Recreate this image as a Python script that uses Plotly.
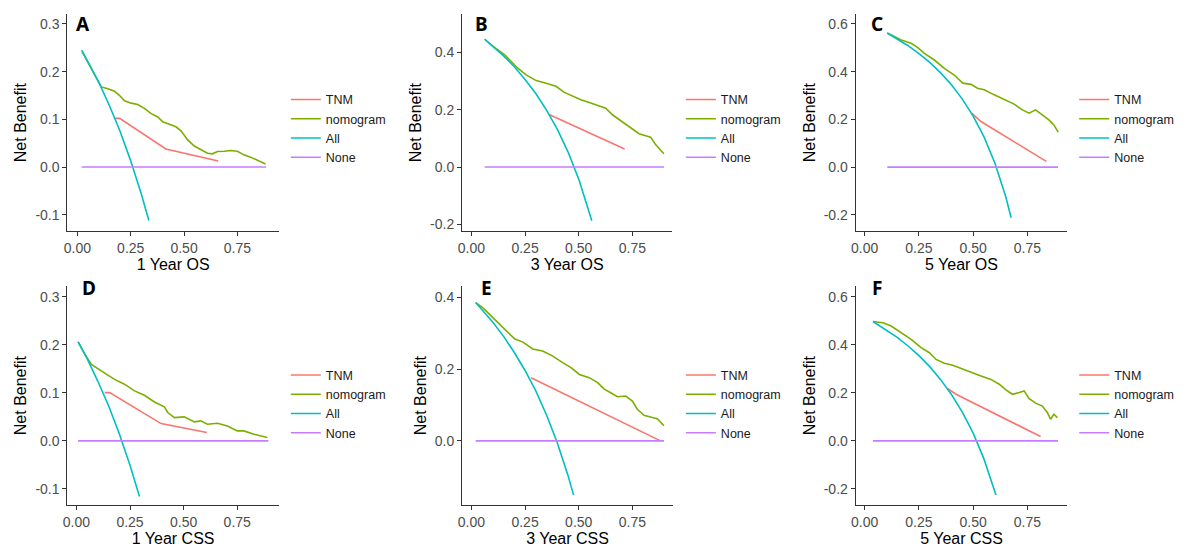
import plotly.graph_objects as go

# ---------------- data ----------------
series_names = ["TNM", "nomogram", "All", "None"]
panel_letters = ["A", "B", "C", "D", "E", "F"]
x_titles = ["1 Year OS", "3 Year OS", "5 Year OS", "1 Year CSS", "3 Year CSS", "5 Year CSS"]
x_tickvals = [0.0, 0.25, 0.5, 0.75]
x_ticktext = ["0.00", "0.25", "0.50", "0.75"]
y_tickvals_small = [-0.1, 0.0, 0.1, 0.2, 0.3]
y_ticktext_small = ["-0.1", "0.0", "0.1", "0.2", "0.3"]
y_tickvals_large = [-0.2, 0.0, 0.2, 0.4, 0.6]
y_ticktext_large = ["-0.2", "0.0", "0.2", "0.4", "0.6"]

# Panel A : 1 Year OS
a_tnm_x = [0.177, 0.198, 0.415, 0.66]
a_tnm_y = [0.102, 0.102, 0.038, 0.0125]
a_nom_x = [0.022, 0.05, 0.081, 0.112, 0.143, 0.174, 0.198, 0.221, 0.252, 0.283, 0.314, 0.346, 0.377,
           0.40, 0.431, 0.462, 0.486, 0.517, 0.548, 0.579, 0.61, 0.633, 0.657, 0.688, 0.719, 0.75,
           0.781, 0.812, 0.843, 0.867, 0.882]
a_nom_y = [0.242, 0.219, 0.192, 0.168, 0.164, 0.159, 0.150, 0.139, 0.134, 0.131, 0.123, 0.112, 0.105,
           0.095, 0.090, 0.0845, 0.076, 0.057, 0.044, 0.037, 0.029, 0.0277, 0.0325, 0.033, 0.0346, 0.033,
           0.0256, 0.0208, 0.0138, 0.0097, 0.0063]
a_all_x = [0.02, 0.05, 0.10, 0.15, 0.20, 0.25, 0.30, 0.335]
a_all_y = [0.245, 0.221, 0.178, 0.129, 0.075, 0.013, -0.057, -0.112]
a_none_x = [0.02, 0.885]
a_none_y = [0.0, 0.0]

# Panel B : 3 Year OS
b_tnm_x = [0.362, 0.714]
b_tnm_y = [0.183, 0.0626]
b_nom_x = [0.062, 0.10, 0.155, 0.216, 0.255, 0.302, 0.348, 0.394, 0.433, 0.472, 0.51, 0.549, 0.595,
           0.626, 0.657, 0.688, 0.719, 0.75, 0.781, 0.812, 0.835, 0.858, 0.881, 0.897]
b_nom_y = [0.445, 0.421, 0.391, 0.344, 0.321, 0.301, 0.292, 0.281, 0.260, 0.246, 0.234, 0.225, 0.213,
           0.205, 0.182, 0.165, 0.147, 0.130, 0.116, 0.109, 0.104, 0.078, 0.058, 0.046]
b_all_x = [0.062, 0.10, 0.15, 0.20, 0.25, 0.30, 0.35, 0.40, 0.45, 0.50, 0.561]
b_all_y = [0.445, 0.421, 0.387, 0.349, 0.305, 0.256, 0.198, 0.132, 0.053, -0.042, -0.187]
b_none_x = [0.062, 0.897]
b_none_y = [0.0, 0.0]

# Panel C : 5 Year OS
c_tnm_x = [0.493, 0.536, 0.837]
c_tnm_y = [0.226, 0.191, 0.024]
c_nom_x = [0.104, 0.135, 0.168, 0.214, 0.245, 0.275, 0.321, 0.367, 0.413, 0.452, 0.49, 0.52, 0.551,
           0.597, 0.643, 0.689, 0.727, 0.758, 0.788, 0.819, 0.849, 0.872, 0.892]
c_nom_y = [0.562, 0.547, 0.533, 0.519, 0.501, 0.477, 0.449, 0.414, 0.386, 0.352, 0.347, 0.331, 0.324,
           0.303, 0.282, 0.264, 0.240, 0.226, 0.240, 0.219, 0.198, 0.177, 0.147]
c_all_x = [0.104, 0.15, 0.20, 0.25, 0.30, 0.35, 0.40, 0.45, 0.50, 0.55, 0.60, 0.65, 0.675]
c_all_y = [0.562, 0.538, 0.509, 0.476, 0.439, 0.395, 0.345, 0.285, 0.214, 0.127, 0.017, -0.123, -0.212]
c_none_x = [0.104, 0.891]
c_none_y = [0.0, 0.0]

# Panel D : 1 Year CSS
d_tnm_x = [0.132, 0.155, 0.395, 0.608]
d_tnm_y = [0.1005, 0.1005, 0.036, 0.0173]
d_nom_x = [0.008, 0.04, 0.07, 0.085, 0.132, 0.178, 0.224, 0.271, 0.317, 0.364, 0.41, 0.426, 0.457,
           0.503, 0.55, 0.58, 0.611, 0.658, 0.704, 0.75, 0.78, 0.828, 0.89]
d_nom_y = [0.206, 0.180, 0.159, 0.155, 0.141, 0.128, 0.118, 0.104, 0.095, 0.081, 0.071, 0.059, 0.0485,
           0.050, 0.0395, 0.0416, 0.0347, 0.0367, 0.031, 0.0208, 0.0208, 0.0139, 0.0069]
d_all_x = [0.008, 0.05, 0.10, 0.15, 0.20, 0.25, 0.294]
d_all_y = [0.206, 0.171, 0.124, 0.073, 0.015, -0.051, -0.116]
d_none_x = [0.008, 0.895]
d_none_y = [0.0, 0.0]

# Panel E : 3 Year CSS
e_tnm_x = [0.278, 0.881]
e_tnm_y = [0.176, 0.0]
e_nom_x = [0.02, 0.054, 0.10, 0.147, 0.201, 0.24, 0.286, 0.332, 0.379, 0.425, 0.464, 0.503, 0.549,
           0.588, 0.619, 0.649, 0.68, 0.719, 0.75, 0.773, 0.804, 0.843, 0.866, 0.897]
e_nom_y = [0.385, 0.370, 0.343, 0.315, 0.284, 0.275, 0.256, 0.250, 0.236, 0.218, 0.204, 0.185, 0.176,
           0.162, 0.144, 0.134, 0.123, 0.125, 0.111, 0.088, 0.071, 0.065, 0.062, 0.042]
e_all_x = [0.02, 0.05, 0.10, 0.15, 0.20, 0.25, 0.30, 0.35, 0.40, 0.45, 0.476]
e_all_y = [0.385, 0.365, 0.330, 0.291, 0.246, 0.196, 0.139, 0.072, -0.005, -0.096, -0.151]
e_none_x = [0.02, 0.897]
e_none_y = [0.0, 0.0]

# Panel F : 5 Year CSS
f_tnm_x = [0.383, 0.421, 0.811]
f_tnm_y = [0.217, 0.194, 0.018]
f_nom_x = [0.038, 0.084, 0.122, 0.168, 0.214, 0.26, 0.298, 0.329, 0.367, 0.406, 0.444, 0.49, 0.536,
           0.582, 0.62, 0.651, 0.681, 0.712, 0.735, 0.758, 0.788, 0.819, 0.842, 0.857, 0.872, 0.888]
f_nom_y = [0.497, 0.492, 0.478, 0.450, 0.423, 0.388, 0.367, 0.339, 0.323, 0.315, 0.301, 0.287, 0.270,
           0.256, 0.236, 0.212, 0.194, 0.201, 0.208, 0.176, 0.157, 0.145, 0.118, 0.090, 0.111, 0.097]
f_all_x = [0.038, 0.10, 0.15, 0.20, 0.25, 0.30, 0.35, 0.40, 0.45, 0.50, 0.55, 0.605]
f_all_y = [0.497, 0.462, 0.431, 0.395, 0.355, 0.309, 0.255, 0.193, 0.120, 0.032, -0.076, -0.225]
f_none_x = [0.038, 0.891]
f_none_y = [0.0, 0.0]

panel_data = [
    [(a_tnm_x, a_tnm_y), (a_nom_x, a_nom_y), (a_all_x, a_all_y), (a_none_x, a_none_y)],
    [(b_tnm_x, b_tnm_y), (b_nom_x, b_nom_y), (b_all_x, b_all_y), (b_none_x, b_none_y)],
    [(c_tnm_x, c_tnm_y), (c_nom_x, c_nom_y), (c_all_x, c_all_y), (c_none_x, c_none_y)],
    [(d_tnm_x, d_tnm_y), (d_nom_x, d_nom_y), (d_all_x, d_all_y), (d_none_x, d_none_y)],
    [(e_tnm_x, e_tnm_y), (e_nom_x, e_nom_y), (e_all_x, e_all_y), (e_none_x, e_none_y)],
    [(f_tnm_x, f_tnm_y), (f_nom_x, f_nom_y), (f_all_x, f_all_y), (f_none_x, f_none_y)],
]

# ---------------- layout / style ----------------
W, H = 1200, 560
colors = ["#F8766D", "#7CAE00", "#00BFC4", "#C77CFF"]
FONT = "Liberation Sans, Arial, sans-serif"

# pixel boxes of each plot area: (left, right, top, bottom)
boxes = [
    (62.7, 275.0, 14.0, 231.7),
    (459.0, 670.0, 14.0, 231.7),
    (854.3, 1066.7, 14.0, 231.7),
    (62.7, 275.0, 286.7, 506.0),
    (459.0, 670.7, 286.7, 506.0),
    (854.3, 1066.7, 286.7, 506.0),
]
x_ranges = [(-0.0467, 0.9445), (-0.0433, 0.9355), (-0.0413, 0.9337),
            (-0.0418, 0.944), (-0.0433, 0.9386), (-0.0413, 0.9337)]
y_ranges = [(-0.1347, 0.321), (-0.2238, 0.533), (-0.269, 0.642),
            (-0.1337, 0.322), (-0.1787, 0.4306), (-0.2674, 0.644)]
small_y = [True, False, False, True, False, False]
letter_pos = [(78, 24), (478, 24), (876, 24), (84, 289), (484, 289), (876, 289)]
legend_left = [282, 678.7, 1073.7, 282, 678.7, 1073.7]
legend_top = [85, 85, 85, 361, 361, 361]

fig = go.Figure()
layout = dict(
    width=W, height=H,
    margin=dict(l=0, r=0, t=0, b=0),
    paper_bgcolor="white", plot_bgcolor="white",
    font=dict(family=FONT, color="#000000"),
    showlegend=True,
    annotations=[],
)

for i in range(6):
    n = i + 1
    xa = "x" if n == 1 else f"x{n}"
    ya = "y" if n == 1 else f"y{n}"
    lg = "legend" if n == 1 else f"legend{n}"
    for j, name in enumerate(series_names):
        xs, ys = panel_data[i][j]
        fig.add_trace(go.Scatter(
            x=xs, y=ys, mode="lines", name=name,
            line=dict(color=colors[j], width=1.6),
            xaxis=xa, yaxis=ya, legend=lg, hoverinfo="skip",
        ))
    l, r, t, b = boxes[i]
    axis_common = dict(
        showline=True, linecolor="#333333", linewidth=1.2,
        ticks="outside", ticklen=4, tickwidth=1.1, tickcolor="#333333",
        showgrid=False, zeroline=False,
        tickfont=dict(family=FONT, size=14, color="#4D4D4D"),
    )
    layout["xaxis" if n == 1 else f"xaxis{n}"] = dict(
        domain=[l / W, r / W], anchor=ya, range=list(x_ranges[i]),
        tickvals=x_tickvals, ticktext=x_ticktext,
        title=dict(text=x_titles[i], font=dict(family=FONT, size=16, color="#000000"), standoff=3),
        **axis_common,
    )
    layout["yaxis" if n == 1 else f"yaxis{n}"] = dict(
        domain=[1 - b / H, 1 - t / H], anchor=xa, range=list(y_ranges[i]),
        tickvals=y_tickvals_small if small_y[i] else y_tickvals_large,
        ticktext=y_ticktext_small if small_y[i] else y_ticktext_large,
        title=dict(text="Net Benefit", font=dict(family=FONT, size=16, color="#000000"), standoff=4),
        **axis_common,
    )
    layout[lg] = dict(
        x=legend_left[i] / W, y=1 - legend_top[i] / H, xanchor="left", yanchor="top",
        bgcolor="rgba(0,0,0,0)", borderwidth=0, tracegroupgap=0,
        font=dict(family=FONT, size=12.5, color="#1A1A1A"),
        itemwidth=30,
    )
    lx, ly = letter_pos[i]
    layout["annotations"].append(dict(
        text=f"<b>{panel_letters[i]}</b>", x=lx / W, y=1 - ly / H, xref="paper", yref="paper",
        xanchor="center", yanchor="middle", showarrow=False,
        font=dict(family="Noto Sans, sans-serif", size=19, color="#000000"),
    ))

fig.update_layout(**layout)
fig.write_html(
    "out.html",
    config={"displayModeBar": False},
    post_script="document.body.style.margin='0';document.body.style.overflow='hidden';",
)
